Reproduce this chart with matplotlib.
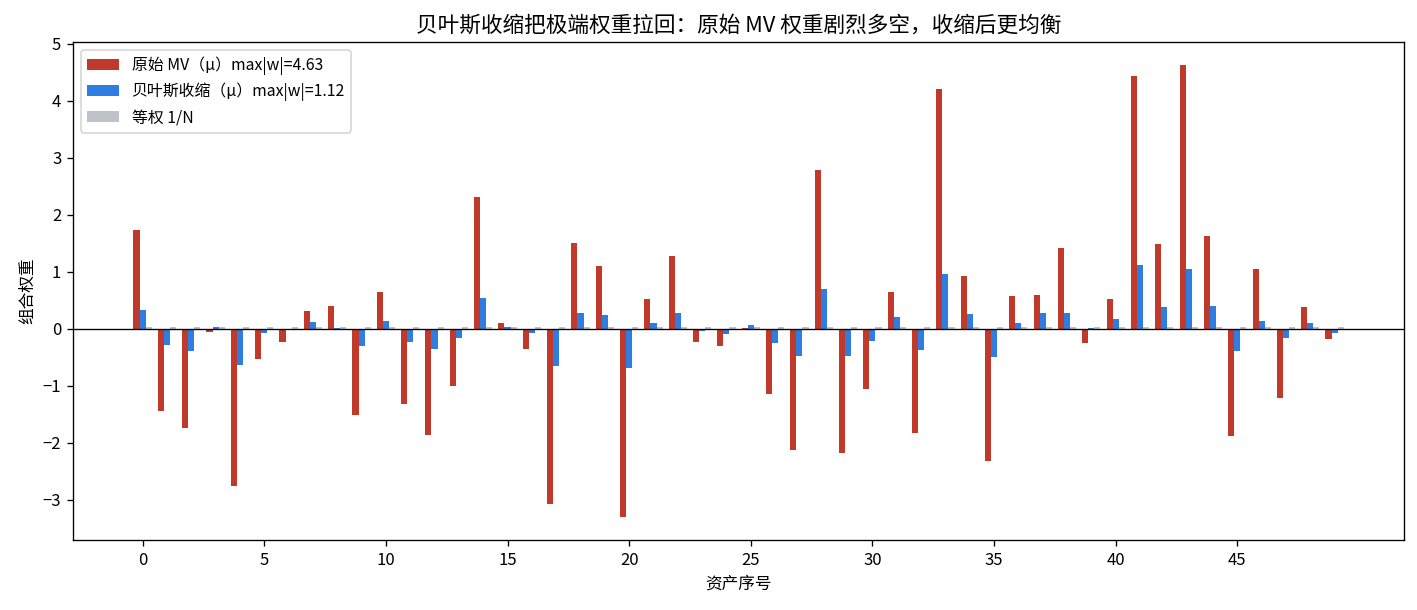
import numpy as np
import matplotlib
matplotlib.use('Agg')
import matplotlib.pyplot as plt

plt.rcParams['font.family'] = ['Noto Sans CJK SC', 'DejaVu Sans']
plt.rcParams['axes.unicode_minus'] = True

# portfolio weights per asset
mvWeights = [1.73, -1.45, -1.74, -0.06, -2.76, -0.54, -0.24, 0.30, 0.39, -1.52,
             0.65, -1.32, -1.86, -1.01, 2.31, 0.09, -0.36, -3.07, 1.50, 1.10,
             -3.31, 0.52, 1.28, -0.24, -0.31, 0.01, -1.15, -2.13, 2.78, -2.18,
             -1.06, 0.65, -1.83, 4.21, 0.93, -2.32, 0.58, 0.59, 1.42, -0.26,
             0.52, 4.44, 1.49, 4.63, 1.63, -1.88, 1.05, -1.22, 0.37, -0.19]
bayesWeights = [0.33, -0.29, -0.40, 0.02, -0.64, -0.08, -0.01, 0.12, 0.01, -0.31,
                0.14, -0.24, -0.36, -0.17, 0.54, 0.02, -0.08, -0.66, 0.28, 0.24,
                -0.69, 0.10, 0.28, -0.05, -0.10, 0.07, -0.26, -0.48, 0.70, -0.48,
                -0.22, 0.21, -0.37, 0.96, 0.25, -0.50, 0.09, 0.28, 0.27, 0.01,
                0.16, 1.12, 0.38, 1.05, 0.40, -0.39, 0.14, -0.17, 0.09, -0.08]
nAssets = len(mvWeights)
equalWeights = [1.0 / nAssets] * nAssets

mvLabel = '原始 MV（μ）max|w|=%.2f' % max(abs(w) for w in mvWeights)
bayesLabel = '贝叶斯收缩（μ）max|w|=%.2f' % max(abs(w) for w in bayesWeights)
equalLabel = '等权 1/N'

x = np.arange(nAssets)
width = 0.25

fig = plt.figure(figsize=(1417 / 120, 610 / 120), dpi=120)
ax = fig.add_axes([0.0515, 0.115, 0.9395, 0.816])

ax.bar(x - width, mvWeights, width, color='#c0392b', label=mvLabel)
ax.bar(x, bayesWeights, width, color='#2e7de1', label=bayesLabel)
ax.bar(x + width, equalWeights, width, color='#bdc3c7', label=equalLabel)
ax.axhline(0, color='black', linewidth=0.8)

ax.set_title('贝叶斯收缩把极端权重拉回：原始 MV 权重剧烈多空，收缩后更均衡', fontsize=13)
ax.set_xlabel('资产序号', fontsize=10)
ax.set_ylabel('组合权重', fontsize=10)
ax.set_xticks(np.arange(0, nAssets, 5))
ax.legend(loc='upper left', fontsize=9.5)

fig.savefig('out.png', dpi=120)
